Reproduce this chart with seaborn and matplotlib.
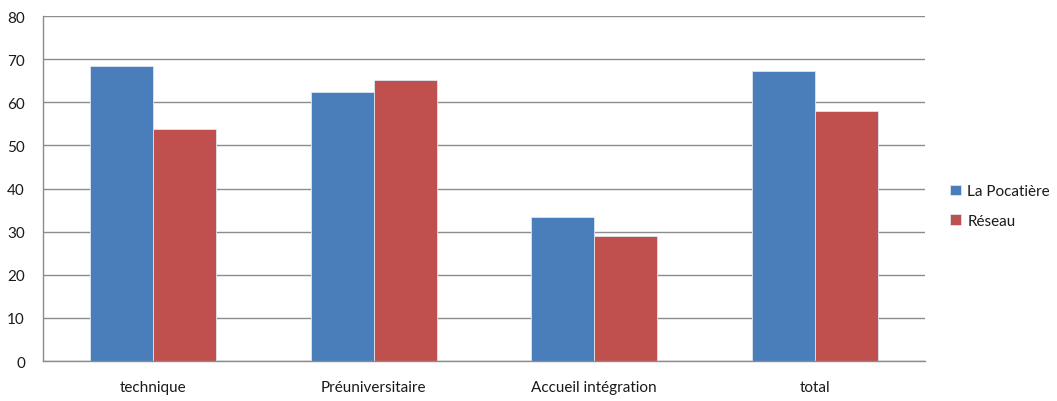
import seaborn as sns
import pandas as pd
import matplotlib.pyplot as plt

categories = ['technique', 'Préuniversitaire', 'Accueil intégration', 'total']
la_pocatiere = [68.4, 62.3, 33.3, 67.2]
reseau = [53.9, 65.1, 28.9, 57.9]
series_names = ['La Pocatière', 'Réseau']
colors = ['#4A7EBB', '#C0504D']
yticks = [0, 10, 20, 30, 40, 50, 60, 70, 80]

df = pd.DataFrame({
    'categorie': categories * 2,
    'valeur': la_pocatiere + reseau,
    'serie': [series_names[0]] * len(categories) + [series_names[1]] * len(categories),
})

sns.set_style('white')
plt.rcParams['font.family'] = ['Lato', 'DejaVu Sans']

fig = plt.figure(figsize=(10.57, 4.02), dpi=100)
ax = fig.add_axes([0.0407, 0.0995, 0.8344, 0.8582])

sns.barplot(data=df, x='categorie', y='valeur', hue='serie', palette=colors,
            width=0.571, gap=0, edgecolor='#dde6f0', linewidth=0.6,
            saturation=1, ax=ax, legend=True)

ax.set_ylim(0, 80)
ax.set_xlim(-0.5, len(categories) - 0.5)
ax.set_yticks(yticks)
ax.yaxis.grid(True, color='#8c8c8c', linewidth=1)
ax.set_axisbelow(True)
ax.set_xlabel('')
ax.set_ylabel('')
ax.tick_params(axis='y', length=0, pad=13, labelsize=11, colors='#1a1a1a')
ax.tick_params(axis='x', length=0, pad=14, labelsize=11, colors='#1a1a1a')
for side in ['top', 'right']:
    ax.spines[side].set_visible(False)
for side in ['left', 'bottom']:
    ax.spines[side].set_color('#8c8c8c')
    ax.spines[side].set_linewidth(1)

handles, labels = ax.get_legend_handles_labels()
ax.get_legend().remove()
fig.legend(handles, labels, loc='center left', bbox_to_anchor=(0.892, 0.485),
           frameon=False, handlelength=0.7, handleheight=0.7,
           handletextpad=0.4, labelspacing=1.0, borderpad=0,
           fontsize=11, labelcolor='#1a1a1a')

fig.savefig('out.png', dpi=100)
